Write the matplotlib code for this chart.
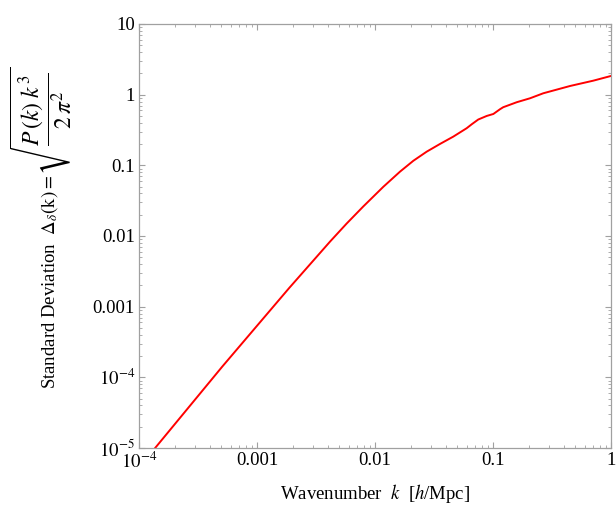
import numpy as np
import matplotlib
matplotlib.use("Agg")
import matplotlib.pyplot as plt
from matplotlib.ticker import FixedLocator, FixedFormatter, LogLocator, NullFormatter

# Werte
wellenzahl = [1.37e-4, 5.08e-4, 1.87e-3, 4.16e-3, 5.75e-3, 7.96e-3, 0.01175, 0.01629,
              0.02113, 0.0274, 0.0356, 0.0461, 0.0598, 0.066, 0.075, 0.0885, 0.1007,
              0.1146, 0.122, 0.159, 0.206, 0.267, 0.450, 0.708, 1.0]
delta = [1.0e-5, 1.42e-4, 1.83e-3, 8.34e-3, 0.0150, 0.0262, 0.0496, 0.0814,
         0.116, 0.156, 0.201, 0.255, 0.335, 0.381, 0.445, 0.500, 0.533,
         0.622, 0.664, 0.782, 0.889, 1.047, 1.327, 1.578, 1.84]

x_ticks = [1e-4, 1e-3, 1e-2, 1e-1, 1]
x_labels = [r"$10^{-4}$", "0.001", "0.01", "0.1", "1"]
y_ticks = [1e-5, 1e-4, 1e-3, 1e-2, 1e-1, 1, 10]
y_labels = [r"$10^{-5}$", r"$10^{-4}$", "0.001", "0.01", "0.1", "1", "10"]

plt.rcParams["font.family"] = "serif"
plt.rcParams["font.serif"] = ["Liberation Serif", "DejaVu Serif"]
plt.rcParams["mathtext.fontset"] = "stix"

rahmen = "#a0a0a0"

fig = plt.figure(figsize=(6.16, 5.05), dpi=100)
ax = fig.add_axes([139 / 616, 57 / 505, 472 / 616, 424 / 505])

ax.plot(wellenzahl, delta, color="#ff0000", lw=1.4)

ax.set_xscale("log")
ax.set_yscale("log")
ax.set_xlim(1e-4, 1)
ax.set_ylim(1e-5, 10)

ax.xaxis.set_major_locator(FixedLocator(x_ticks))
ax.xaxis.set_major_formatter(FixedFormatter(x_labels))
ax.yaxis.set_major_locator(FixedLocator(y_ticks))
ax.yaxis.set_major_formatter(FixedFormatter(y_labels))
ax.xaxis.set_minor_locator(LogLocator(base=10, subs=np.arange(2, 10), numticks=20))
ax.yaxis.set_minor_locator(LogLocator(base=10, subs=np.arange(2, 10), numticks=20))
ax.xaxis.set_minor_formatter(NullFormatter())
ax.yaxis.set_minor_formatter(NullFormatter())

for s in ax.spines.values():
    s.set_color(rahmen)
    s.set_linewidth(0.9)

ax.tick_params(which="both", direction="in", top=True, right=True,
               color=rahmen, labelsize=13.5, labelcolor="black")
ax.tick_params(which="major", length=4, width=0.8, pad=3)
ax.tick_params(which="minor", length=2.2, width=0.6)

ax.set_xlabel(r"Wavenumber  $k$  [$h$/Mpc]", fontsize=13.5, labelpad=7)

# y-Beschriftung: Text und Wurzel getrennt, damit die Wurzel groesser wird
px, py = 55 / 616, 1 - 175 / 505
fig.text(px, py, r"Standard Deviation  $\Delta_{\delta}\mathrm{(k)=}$",
         rotation=90, rotation_mode="anchor", ha="right", va="baseline", fontsize=13.5)
fig.text(px, py, r"$\sqrt{\dfrac{P\,(k)\;k^3}{2\,\pi^2}}$",
         rotation=90, rotation_mode="anchor", ha="left", va="baseline", fontsize=17)

fig.savefig("out.png", dpi=100)
